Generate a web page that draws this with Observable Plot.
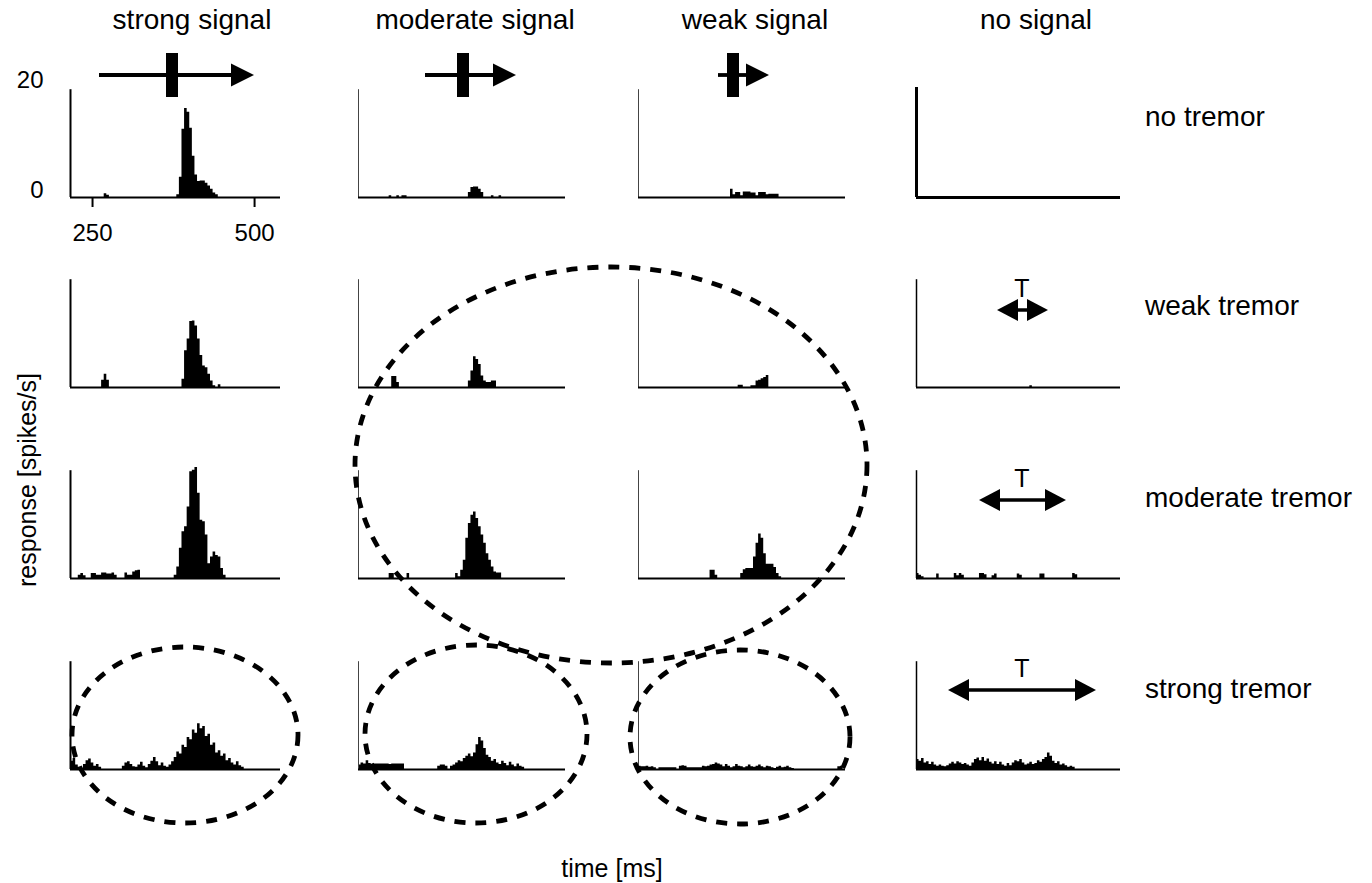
<!DOCTYPE html>
<html><head><meta charset="utf-8">
<script src="https://cdn.jsdelivr.net/npm/d3@7"></script>
<script src="https://cdn.jsdelivr.net/npm/@observablehq/plot@0.6"></script>
<style>
html,body{margin:0;padding:0;background:#fff;}
#fig{position:relative;width:1372px;height:883px;overflow:hidden;font-family:"Liberation Sans",Arial,sans-serif;}
#fig .panel{position:absolute;}
#overlay{position:absolute;left:0;top:0;pointer-events:none;}
</style></head><body><div id="fig"></div>
<script>
// ---------- categories & ticks ----------
const signals = ["strong signal", "moderate signal", "weak signal", "no signal"];
const tremors = ["no tremor", "weak tremor", "moderate tremor", "strong tremor"];
const timeDomain = [216, 540];
const binWidth = 4;
const xTicks = [250, 500];
const yTicks = [0, 20];
const xLabel = "time [ms]";
const yLabel = "response [spikes/s]";
const tremorMark = "T";

// ---------- histogram data: [start time (ms), [rates per 4 ms bin]] ----------
const strongSignalNoTremor = [[268,[0.7,0.4]],[380,[0.5,3.7,12.4,16.2,15.5,12.6,7.5,4.1,2.9,3.0,3.0,2.6,2.1,1.5,0.8,0.5]]];
const moderateSignalNoTremor = [[264,[0.3]],[276,[0.3]],[284,[0.3,0.3]],[388,[0.9,1.8,1.9,1.9,1.5,0.9]],[424,[0.3]],[436,[0.3]]];
const weakSignalNoTremor = [[360,[1.5,0.5,0.9,0.9,0.3,1.0,1.0,1.0,0.8,0.8,0.3,0.9,0.9,0.9,0.5,0.6,0.6,0.6,0.6]]];
const noSignalNoTremor = [];

const strongSignalWeakTremor = [[264,[1.3,2.4,1.3]],[388,[1.5,6.7,8.8,12.0,12.1,11.2,8.8,5.8,3.9,3.6,2.4,1.2,0.3]],[444,[0.5]]];
const moderateSignalWeakTremor = [[268,[2.0,2.0,0.9]],[388,[1.2,3.0,5.6,5.1,4.2,2.1,1.2,0.9,0.9,1.2,1.2]]];
const weakSignalWeakTremor = [[372,[0.4,0.4]],[392,[0.3,0.3,1.2,1.3,1.6,1.8,2.2]]];
const noSignalWeakTremor = [[396,[0.3]]];

const strongSignalModerateTremor = [[228,[0.6,0.9,0.5]],[248,[0.9,0.9,0.6,0.6,1.0,1.0,0.8,0.8,1.0,0.6]],[300,[1.0,0.6,0.6,1.2,1.4,1.5]],[376,[0.6,2.1,5.5,8.5,9.4,13.0,19.4,19.7,20.2,15.5,10.6,10.3,7.9,2.7,3.9,4.8,4.2,3.9,1.8,0.6]]];
const moderateSignalModerateTremor = [[264,[0.9,0.9]],[292,[0.9]],[368,[0.9,0.3,1.5,3.3,7.3,10.0,11.5,12.1,10.9,9.4,7.9,6.4,4.5,3.3,2.1,1.2,1.0,1.0]]];
const weakSignalModerateTremor = [[328,[1.5,1.5,0.6]],[376,[0.9,1.6,1.8,1.8,1.8,3.9,6.4,8.1,7.3,4.5,2.6,2.6,2.6,2.0,0.9,0.3]]];
const noSignalModerateTremor = [[216,[0.9,0.6,0.3]],[248,[0.8]],[276,[0.9,0.5,0.9,0.6]],[316,[0.9,0.9,0.7]],[336,[0.5,0.8]],[376,[0.8,0.6]],[412,[0.8,0.8]],[464,[0.9,0.7]]];

const strongSignalStrongTremor = [[216,[1.5,2.0,0.8,0.4,0,0.9,1.6,1.9,1.2,0.6,0.9,0.4]],[296,[0.6,1.2,1.4,0.9,0.5,0.4,0.8,1.3,0.6,0.3,0.9,1.5,2.2,1.4,0.7,1.2,0.6,0.4,0.8,1.4,2.2,3.2,2.8,4.4,4.0,5.8,5.4,7.2,6.6,8.3,7.4,7.8,6.0,6.4,4.4,4.8,3.0,3.4,2.4,2.8,1.6,2.0,1.2,0.8,1.4,0.7,0.4]]];
const moderateSignalStrongTremor = [[216,[0.8,1.2,1.0,1.6,1.1,0.8,1.0,1.0,1.0,1.0,1.0,1.0,0.9,1.0,1.0,1.0,1.0,1.0]],[340,[0.6,0.8,0.8,0.6,0,0.6,0.8,1.2,1.6,1.4,2.0,2.4,2.8,2.3,3.0,4.5,5.8,5.2,3.8,2.6,2.2,1.5,1.8,1.2,0.9,1.5,1.1,0.7,1.3,0.8,0.5,1.0,0.6,0.4]]];
const weakSignalStrongTremor = [[216,[0.6,0.5,0.5,0.6,0.4,0.5,0.3,0,0.3,0.3,0.3,0.3,0.3,0.3,0.3,0,0.6,0.7,0.6,0.3,0.3,0.3,0.3,0.3,0.3,0.6,0.5,0.6,0.8,0.9,1.2,1.0,0.8,0.5,0.9,0.6,0.3,0.5,0.9,0.6,0.5,0.3,0.5,0.8,0.5,0.4,0.6,0.8,0.5,0.3,0.6,0.5,0.3,0.2,0.4,0.6,0.3,0.4,0.6,0.3,0.2]],[528,[0.5,0.6]]];
const noSignalStrongTremor = [[216,[1.8,1.5,2.0,1.2,1.4,0.9,1.3,0.8,0.6,0.8,0.6,0.5,0.7,1.0,1.3,1.0,1.4,1.2,0.9,1.1,0.8,0.6,1.2,1.8,2.1,1.6,2.2,1.5,1.9,1.3,1.0,1.4,0.9,1.3,0.8,0.6,1.1,0.7,1.2,1.6,1.4,1.8,1.2,0.8,1.0,1.3,0.9,1.1,1.6,1.3,1.8,2.2,3.0,2.4,1.5,1.1,1.4,0.8,1.0,0.7,0.4,0.6,0.4]]];

// rows = tremor level, columns = signal level
const grid = [
  [strongSignalNoTremor, moderateSignalNoTremor, weakSignalNoTremor, noSignalNoTremor],
  [strongSignalWeakTremor, moderateSignalWeakTremor, weakSignalWeakTremor, noSignalWeakTremor],
  [strongSignalModerateTremor, moderateSignalModerateTremor, weakSignalModerateTremor, noSignalModerateTremor],
  [strongSignalStrongTremor, moderateSignalStrongTremor, weakSignalStrongTremor, noSignalStrongTremor]
];

// ---------- layout ----------
const W = 1372, H = 883;
const colX = [70, 358, 638, 916];
const colW = [210, 207, 207, 204];
const rowBase = [197, 387, 578, 769];
const yPx = 110; // pixels for 0..20 spikes/s
const FONT = "'Liberation Sans', Arial, sans-serif";

function series(segs) {
  const n = Math.round((timeDomain[1] - timeDomain[0]) / binWidth);
  const arr = d3.range(n + 1).map(i => ({t: timeDomain[0] + i * binWidth, v: 0}));
  for (const [start, vals] of segs) {
    const i0 = Math.round((start - timeDomain[0]) / binWidth);
    vals.forEach((v, k) => { if (i0 + k < n) arr[i0 + k].v = v; });
  }
  return arr;
}

const fig = document.getElementById("fig");

grid.forEach((row, r) => {
  row.forEach((segs, c) => {
    const first = r === 0 && c === 0;
    const empty = r === 0 && c === 3;
    const mL = first ? 70 : 6, mR = 6, mT = first ? 20 : 6, mB = first ? 62 : 6;
    const yColor = (c === 1 || c === 2) ? "#444" : "black";
    const yW = empty ? 3 : (c === 0 ? 2 : (c === 3 ? 1.5 : 1));
    const xW = empty ? 3 : 2;
    const marks = [
      Plot.areaY(series(segs), {x: "t", y: "v", curve: "step-after", fill: "black"}),
      Plot.ruleX([timeDomain[0]], {y1: 0, y2: empty ? 20 : 19.6, stroke: yColor, strokeWidth: yW}),
      Plot.ruleY([0], {stroke: "black", strokeWidth: xW})
    ];
    if (first) {
      marks.push(Plot.axisX({ticks: xTicks, tickSize: 10, tickPadding: 16, fontSize: 24, strokeWidth: 2, label: null}));
      marks.push(Plot.axisY({ticks: yTicks, tickSize: 0, tickPadding: 27, fontSize: 24, dy: -7, label: null}));
    }
    const p = Plot.plot({
      width: mL + colW[c] + mR,
      height: mT + yPx + mB,
      marginLeft: mL, marginRight: mR, marginTop: mT, marginBottom: mB,
      x: first ? {domain: timeDomain} : {domain: timeDomain, axis: null},
      y: first ? {domain: [0, 20]} : {domain: [0, 20], axis: null},
      style: {background: "transparent", overflow: "visible", fontFamily: FONT, color: "black"},
      marks
    });
    p.classList.add("panel");
    p.style.left = (colX[c] - mL) + "px";
    p.style.top = (rowBase[r] - yPx - mT) + "px";
    fig.appendChild(p);
  });
});

// ---------- overlay: labels, stimulus arrows, dashed ellipses ----------
const svg = d3.create("svg").attr("id", "overlay").attr("width", W).attr("height", H)
  .style("font-family", FONT);

const titleX = [192, 475, 755, 1036];
signals.forEach((s, i) => svg.append("text").attr("x", titleX[i]).attr("y", 29)
  .attr("text-anchor", "middle").attr("font-size", 28).text(s));

const rowLabelY = [126, 315, 507, 698];
tremors.forEach((s, i) => svg.append("text").attr("x", 1145).attr("y", rowLabelY[i])
  .attr("font-size", 28).text(s));

svg.append("text").attr("x", 612).attr("y", 877).attr("text-anchor", "middle")
  .attr("font-size", 25).text(xLabel);
svg.append("text").attr("transform", "translate(28,480) rotate(-90)").attr("y", 8)
  .attr("text-anchor", "middle").attr("font-size", 25).text(yLabel);

// signal arrows (stimulus moving rightwards)
const sigArrows = [
  {x1: 99, x2: 254, barX: 166},
  {x1: 425, x2: 516, barX: 457},
  {x1: 718, x2: 769, barX: 727}
];
const headL = 23, headH = 23, ay = 75;
sigArrows.forEach(a => {
  svg.append("line").attr("x1", a.x1).attr("x2", a.x2 - headL + 2).attr("y1", ay).attr("y2", ay)
    .attr("stroke", "black").attr("stroke-width", 3.8);
  svg.append("path").attr("d", `M${a.x2 - headL},${ay - headH / 2}L${a.x2},${ay}L${a.x2 - headL},${ay + headH / 2}Z`)
    .attr("fill", "black");
  svg.append("rect").attr("x", a.barX).attr("y", 53).attr("width", 12).attr("height", 44).attr("fill", "black");
});

// tremor arrows (double headed) in the "no signal" column
const tremArrows = [
  {x1: 997, x2: 1048, y: 310, tY: 297},
  {x1: 979, x2: 1066, y: 500, tY: 487},
  {x1: 948, x2: 1096, y: 690, tY: 677}
];
tremArrows.forEach(a => {
  svg.append("line").attr("x1", a.x1 + 10).attr("x2", a.x2 - 10).attr("y1", a.y).attr("y2", a.y)
    .attr("stroke", "black").attr("stroke-width", 3.5);
  svg.append("path").attr("d", `M${a.x1},${a.y}L${a.x1 + 21},${a.y - 11}L${a.x1 + 21},${a.y + 11}Z`).attr("fill", "black");
  svg.append("path").attr("d", `M${a.x2},${a.y}L${a.x2 - 21},${a.y - 11}L${a.x2 - 21},${a.y + 11}Z`).attr("fill", "black");
  svg.append("text").attr("x", 1022).attr("y", a.tY).attr("text-anchor", "middle")
    .attr("font-size", 25).text(tremorMark);
});

// dashed ellipses
const ellipses = [
  {cx: 611, cy: 465, rx: 256, ry: 198},
  {cx: 185, cy: 735, rx: 113, ry: 88},
  {cx: 476, cy: 734, rx: 111, ry: 89},
  {cx: 740, cy: 737, rx: 110, ry: 87}
];
ellipses.forEach(e => svg.append("ellipse").attr("cx", e.cx).attr("cy", e.cy).attr("rx", e.rx).attr("ry", e.ry)
  .attr("fill", "none").attr("stroke", "black").attr("stroke-width", 4.8).attr("stroke-dasharray", "11 10"));

fig.appendChild(svg.node());
</script></body></html>
